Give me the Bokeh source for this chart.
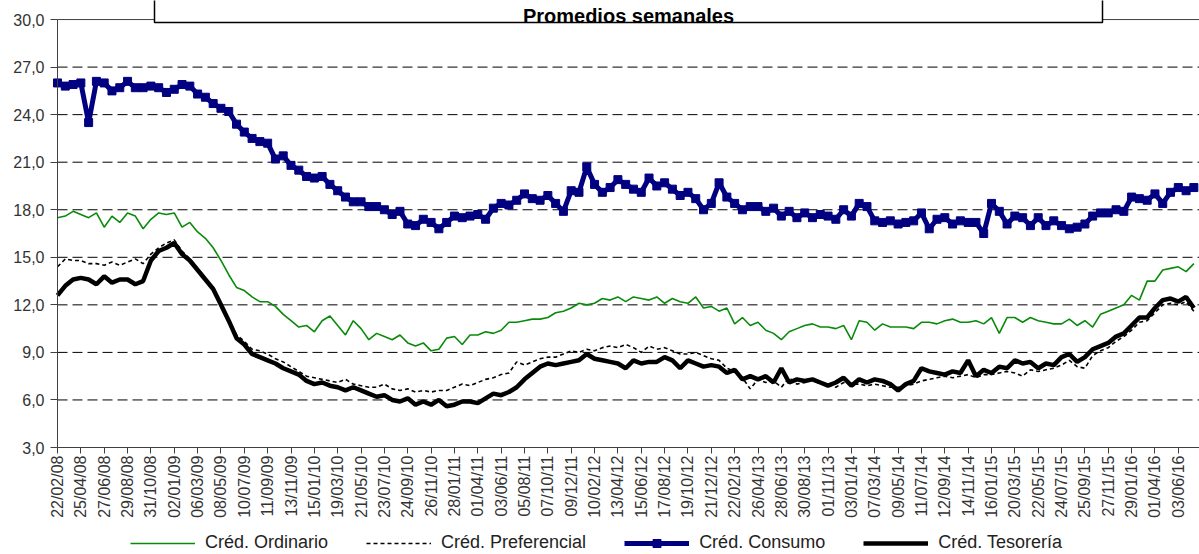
import math
from bokeh.plotting import figure
from bokeh.models import Range1d, FixedTicker, Legend, LegendItem
from bokeh.core.properties import value
from bokeh.embed import file_html
from bokeh.resources import INLINE

# ---------------- data (one value every 3 weeks, from 22/02/08) ----------------
fechas_ticks = ["22/02/08", "25/04/08", "27/06/08", "29/08/08", "31/10/08", "02/01/09", "06/03/09",
                "08/05/09", "10/07/09", "11/09/09", "13/11/09", "15/01/10", "19/03/10", "21/05/10",
                "23/07/10", "24/09/10", "26/11/10", "28/01/11", "01/04/11", "03/06/11", "05/08/11",
                "07/10/11", "09/12/11", "10/02/12", "13/04/12", "15/06/12", "17/08/12", "19/10/12",
                "21/12/12", "22/02/13", "26/04/13", "28/06/13", "30/08/13", "01/11/13", "03/01/14",
                "07/03/14", "09/05/14", "11/07/14", "12/09/14", "14/11/14", "16/01/15", "20/03/15",
                "22/05/15", "24/07/15", "25/09/15", "27/11/15", "29/01/16", "01/04/16", "03/06/16"]

ordinario = [17.5, 17.6, 17.9, 17.7, 17.5, 17.8, 16.9, 17.6, 17.2, 17.8, 17.6, 16.8, 17.4, 17.8, 17.7, 17.8,
             16.9, 17.2, 16.6, 16.2, 15.6, 14.8, 13.9, 13.1, 12.9, 12.5,
             12.2, 12.2, 11.9, 11.4, 11.0, 10.6, 10.7, 10.3, 11.0, 11.3, 10.7, 10.1, 11.0, 10.5, 9.8, 10.2,
             10.0, 9.8, 10.1, 9.6, 9.4, 9.6, 9.1, 9.2, 9.9,
             10.0, 9.5, 10.1, 10.1, 10.3, 10.2, 10.4, 10.9, 10.9, 11.0, 11.1, 11.1, 11.2, 11.5, 11.6, 11.8,
             12.1, 12.0, 12.1, 12.4, 12.3, 12.5, 12.2, 12.5, 12.4,
             12.3, 12.5, 12.1, 12.4, 12.2, 12.1, 12.5, 11.8, 11.9, 11.6, 11.8, 10.8, 11.2, 10.7, 10.9, 10.4,
             10.2, 9.8, 10.3, 10.5, 10.7, 10.8, 10.6, 10.6, 10.5,
             10.7, 9.8, 11.0, 10.9, 10.4, 10.8, 10.6, 10.6, 10.6, 10.5, 10.9, 10.9, 10.8, 11.0, 11.1, 10.9,
             10.9, 11.0, 10.8, 11.2, 10.2, 11.2, 11.2, 10.9, 11.2,
             11.0, 10.9, 10.8, 10.8, 11.1, 10.7, 11.0, 10.6, 11.4, 11.6, 11.8, 12.0, 12.6, 12.3, 13.5, 13.5,
             14.2, 14.3, 14.4, 14.1, 14.6]

preferencial = [14.4, 14.9, 14.8, 14.8, 14.6, 14.6, 14.5, 14.7, 14.5, 14.7, 14.9, 14.6, 15.2, 15.6, 15.9, 16.1,
                15.4, 14.9, 14.3, 13.7, 13.1, 12.1, 11.1, 10.1, 9.7, 9.2,
                9.1, 8.9, 8.6, 8.4, 8.1, 7.8, 7.5, 7.4, 7.3, 7.2, 7.1, 7.3, 7.0, 6.9, 6.8, 6.8,
                7.0, 6.7, 6.6, 6.7, 6.5, 6.6, 6.5, 6.6, 6.6,
                6.8, 7.0, 6.9, 7.1, 7.3, 7.4, 7.6, 7.7, 8.4, 8.2, 8.4, 8.6, 8.7, 8.7, 8.9, 9.1,
                9.0, 9.2, 9.1, 9.3, 9.4, 9.3, 9.5, 9.3, 9.0,
                9.4, 9.2, 9.3, 9.1, 8.9, 8.9, 9.0, 8.8, 8.6, 8.5, 8.0, 7.8, 7.4, 6.7, 7.3, 7.1,
                7.2, 6.8, 7.4, 7.0, 7.1, 7.3, 7.0, 7.0, 6.8,
                7.1, 7.0, 7.0, 6.9, 7.0, 6.9, 6.8, 6.8, 6.9, 7.0, 7.2, 7.3, 7.4, 7.5, 7.4, 7.5,
                7.6, 7.4, 7.6, 7.6, 7.7, 7.8, 7.7, 7.5, 7.9,
                7.8, 7.9, 8.0, 8.2, 8.5, 8.1, 8.0, 8.8, 9.1, 9.3, 9.7, 10.0, 10.4, 10.9, 11.0, 11.5,
                12.0, 12.1, 12.0, 12.2, 11.6]

consumo = [26.0, 25.8, 25.9, 26.0, 23.5, 26.1, 26.0, 25.5, 25.7, 26.1, 25.7, 25.7, 25.8, 25.7, 25.4, 25.6,
           25.9, 25.8, 25.3, 25.1, 24.7, 24.4, 24.2, 23.4, 22.9, 22.5,
           22.3, 22.2, 21.2, 21.4, 20.8, 20.5, 20.1, 20.0, 20.1, 19.6, 19.2, 18.8, 18.5, 18.5, 18.2, 18.2,
           18.0, 17.7, 17.9, 17.1, 17.0, 17.4, 17.2, 16.8, 17.2,
           17.6, 17.5, 17.6, 17.7, 17.4, 18.1, 18.4, 18.3, 18.6, 19.0, 18.7, 18.6, 18.9, 18.4, 17.9, 19.2,
           19.1, 20.7, 19.6, 19.1, 19.4, 19.9, 19.6, 19.3, 19.1,
           20.0, 19.5, 19.7, 19.3, 18.9, 19.1, 18.7, 18.0, 18.4, 19.7, 18.8, 18.4, 18.0, 18.2, 18.2, 17.9,
           18.1, 17.6, 17.9, 17.5, 17.8, 17.5, 17.7, 17.6, 17.4,
           18.0, 17.6, 18.4, 18.2, 17.3, 17.2, 17.3, 17.1, 17.2, 17.3, 17.8, 16.8, 17.4, 17.5, 17.1, 17.3,
           17.2, 17.2, 16.5, 18.4, 17.9, 17.1, 17.6, 17.5, 17.0,
           17.5, 17.0, 17.3, 17.0, 16.8, 16.9, 17.1, 17.6, 17.8, 17.8, 18.0, 17.9, 18.8, 18.7, 18.6, 19.0,
           18.4, 19.1, 19.4, 19.2, 19.4]

tesoreria = [12.6, 13.2, 13.6, 13.7, 13.6, 13.3, 13.8, 13.4, 13.6, 13.6, 13.3, 13.5, 14.8, 15.4, 15.6, 15.9,
             15.2, 14.8, 14.2, 13.6, 13.0, 12.0, 11.0, 9.9, 9.5, 8.9,
             8.7, 8.5, 8.3, 8.0, 7.8, 7.6, 7.2, 7.0, 7.1, 6.9, 6.8, 6.6, 6.8, 6.6, 6.4, 6.2,
             6.3, 6.0, 5.9, 6.1, 5.7, 5.9, 5.7, 6.0, 5.6,
             5.7, 5.9, 5.9, 5.8, 6.1, 6.4, 6.3, 6.5, 6.8, 7.3, 7.7, 8.1, 8.3, 8.2, 8.3, 8.4,
             8.5, 8.9, 8.6, 8.5, 8.4, 8.3, 8.0, 8.5, 8.3,
             8.4, 8.4, 8.7, 8.5, 8.0, 8.5, 8.3, 8.1, 8.2, 8.1, 7.7, 7.9, 7.3, 7.5, 7.3, 7.5,
             7.1, 8.0, 7.1, 7.3, 7.2, 7.3, 7.1, 6.9, 7.1,
             7.4, 6.9, 7.3, 7.1, 7.3, 7.2, 7.0, 6.6, 7.0, 7.2, 8.0, 7.8, 7.7, 7.6, 7.8, 7.7,
             8.5, 7.5, 7.9, 7.7, 8.1, 8.0, 8.5, 8.3, 8.4,
             8.0, 8.3, 8.2, 8.7, 8.9, 8.4, 8.7, 9.2, 9.4, 9.6, 10.0, 10.2, 10.7, 11.2, 11.2, 11.8,
             12.3, 12.4, 12.2, 12.5, 11.8]

nombres = ["Créd. Ordinario", "Créd. Preferencial", "Créd. Consumo", "Créd. Tesorería"]
y_ticks = [3, 6, 9, 12, 15, 18, 21, 24, 27, 30]
y_tick_labels = ["3,0", "6,0", "9,0", "12,0", "15,0", "18,0", "21,0", "24,0", "27,0", "30,0"]
titulo = "Promedios semanales"

# ---------------- layout constants ----------------
FONT = "Liberation Sans"
CANVAS_W = 1199
AXIS_X = 57           # px from canvas left to the vertical axis
PLOT_H = 447          # px from canvas top to the 3,0 axis
BELOW_H = 107         # px under the axis (tick labels + legend)
PX_WEEK = 23.35 / 9.0
PX_UNIT = 15.85
x_start = -AXIS_X / PX_WEEK
x_end = (CANVAS_W - AXIS_X) / PX_WEEK
y_top = 3 + PLOT_H / PX_UNIT
y_bot = 3 - BELOW_H / PX_UNIT

semanas = [3 * i for i in range(len(consumo))]  # category positions (weeks)
tick_pos = [9 * k for k in range(len(fechas_ticks))]

p = figure(frame_width=CANVAS_W, frame_height=PLOT_H + BELOW_H, x_range=Range1d(x_start, x_end),
           y_range=Range1d(y_bot, y_top), output_backend="svg", toolbar_location=None,
           min_border_left=0, min_border_right=0, min_border_top=0, min_border_bottom=0)
p.title.visible = False
p.outline_line_color = None
p.background_fill_color = "white"
p.border_fill_color = "white"
p.xgrid.visible = False
p.ygrid.visible = False

# y axis, drawn at the first week
p.yaxis.fixed_location = 0
p.yaxis.ticker = FixedTicker(ticks=y_ticks)
p.yaxis.major_label_overrides = dict(zip(y_ticks, y_tick_labels))
p.yaxis.bounds = (3, 30)
p.yaxis.axis_line_color = "#404040"
p.yaxis.major_tick_line_color = "#404040"
p.yaxis.major_tick_out = 7
p.yaxis.major_tick_in = 0
p.yaxis.minor_tick_line_color = None
p.yaxis.major_label_standoff = 6
p.yaxis.major_label_text_font = FONT
p.yaxis.major_label_text_font_size = "16px"
p.yaxis.major_label_text_color = "#333333"

# x axis, drawn at 3,0
p.xaxis.fixed_location = 3
p.xaxis.bounds = (0, x_end)
p.xaxis.ticker = FixedTicker(ticks=tick_pos)
p.xaxis.major_label_overrides = dict(zip(tick_pos, fechas_ticks))
p.xaxis.major_label_orientation = math.pi / 2
p.xaxis.axis_line_color = "#404040"
p.xaxis.major_tick_line_color = "#404040"
p.xaxis.major_tick_out = 6
p.xaxis.major_tick_in = 0
p.xaxis.minor_tick_line_color = None
p.xaxis.major_label_standoff = 2
p.xaxis.major_label_text_font = FONT
p.xaxis.major_label_text_font_size = "16px"
p.xaxis.major_label_text_color = "#333333"

# dashed horizontal gridlines from the axis rightwards, solid top border at 30,0
grid_y = y_ticks[1:-1]
p.segment(x0=[0] * len(grid_y), y0=grid_y, x1=[x_end] * len(grid_y), y1=grid_y,
          line_color="black", line_width=1, line_dash="10 5", level="underlay")
p.segment(x0=[0], y0=[y_ticks[-1]], x1=[x_end], y1=[y_ticks[-1]], line_color="#404040", line_width=1,
          level="underlay")

# series
r_ord = p.line(semanas, ordinario, line_color="#0a8a0a", line_width=1.6)
r_pref = p.line(semanas, preferencial, line_color="black", line_width=1.6, line_dash="4 3")
r_cons = p.line(semanas, consumo, line_color="#000080", line_width=5)
r_cons_m = p.scatter(semanas, consumo, marker="square", size=8, fill_color="#000080", line_color="#000080")
r_tes = p.line(semanas, tesoreria, line_color="black", line_width=4.5)

# title box (its top lies above the visible area)
box_l = (154 - AXIS_X) / PX_WEEK
box_r = (1102 - AXIS_X) / PX_WEEK
box_b = 30 - 3 / PX_UNIT
p.quad(left=[box_l], right=[box_r], bottom=[box_b], top=[y_top + 2], fill_color="white",
       line_color="black", line_width=1.5)
p.text(x=[(box_l + box_r) / 2], y=[30 + 4 / PX_UNIT], text=[titulo], text_font=value(FONT),
       text_font_style="bold", text_font_size="20px", text_align="center", text_baseline="alphabetic",
       text_color="black")

legend = Legend(items=[LegendItem(label=nombres[0], renderers=[r_ord]),
                       LegendItem(label=nombres[1], renderers=[r_pref]),
                       LegendItem(label=nombres[2], renderers=[r_cons, r_cons_m]),
                       LegendItem(label=nombres[3], renderers=[r_tes])],
                orientation="horizontal", location=(130, 1), border_line_color=None,
                background_fill_alpha=0, label_text_font=FONT, label_text_font_size="18px",
                label_text_color="#222222", glyph_width=65, glyph_height=20, label_standoff=10,
                spacing=38, padding=0, margin=0)
p.add_layout(legend, "center")

open("out.html", "w").write(file_html(p, INLINE))
